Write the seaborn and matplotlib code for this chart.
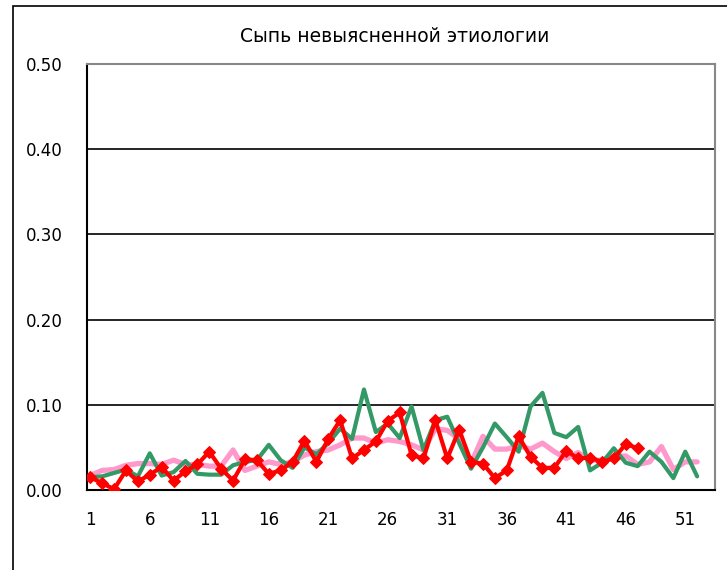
import numpy as np
import pandas as pd
import matplotlib
matplotlib.use('Agg')
import matplotlib.pyplot as plt
import seaborn as sns
from matplotlib.patches import Rectangle

# weekly incidence, three seasons
weeks = list(range(1, 53))
pink_vals = [0.017, 0.023, 0.024, 0.029, 0.031, 0.031, 0.030, 0.035, 0.030, 0.030,
             0.028, 0.028, 0.047, 0.023, 0.028, 0.033, 0.030, 0.033, 0.041, 0.045,
             0.047, 0.053, 0.061, 0.061, 0.055, 0.059, 0.057, 0.053, 0.047, 0.072,
             0.070, 0.060, 0.031, 0.063, 0.048, 0.048, 0.052, 0.048, 0.055, 0.045,
             0.037, 0.044, 0.035, 0.035, 0.039, 0.040, 0.030, 0.033, 0.051, 0.024,
             0.033, 0.033]
green_vals = [0.015, 0.016, 0.020, 0.024, 0.016, 0.043, 0.017, 0.021, 0.034, 0.019,
              0.018, 0.018, 0.029, 0.033, 0.035, 0.053, 0.035, 0.026, 0.050, 0.042,
              0.055, 0.072, 0.060, 0.118, 0.068, 0.078, 0.061, 0.098, 0.047, 0.082,
              0.086, 0.055, 0.025, 0.050, 0.078, 0.062, 0.045, 0.098, 0.114, 0.067,
              0.062, 0.074, 0.023, 0.032, 0.049, 0.032, 0.028, 0.045, 0.033, 0.014,
              0.045, 0.016]
red_vals = [0.015, 0.008, 0.001, 0.023, 0.010, 0.018, 0.027, 0.011, 0.022, 0.030,
            0.045, 0.025, 0.011, 0.036, 0.035, 0.019, 0.023, 0.033, 0.058, 0.033,
            0.060, 0.082, 0.037, 0.047, 0.057, 0.081, 0.091, 0.041, 0.037, 0.082,
            0.037, 0.071, 0.033, 0.031, 0.014, 0.023, 0.063, 0.039, 0.026, 0.026,
            0.046, 0.037, 0.038, 0.033, 0.037, 0.054, 0.049]
y_ticks = [0.0, 0.1, 0.2, 0.3, 0.4, 0.5]
x_labels = list(range(1, 52, 5))
title = 'Сыпь невыясненной этиологии'

sns.set_style('white')
plt.rcParams['font.family'] = ['DejaVu Sans']
plt.rcParams['text.color'] = 'black'
plt.rcParams['xtick.color'] = 'black'
plt.rcParams['ytick.color'] = 'black'
plt.rcParams['xtick.labelcolor'] = 'black'
plt.rcParams['ytick.labelcolor'] = 'black'

fig = plt.figure(figsize=(7.27, 5.70), dpi=100)
ax = fig.add_axes([86.7 / 727, 1 - 490 / 570, (715 - 86.7) / 727, (490 - 64) / 570])

# outer chart frame
fig.patches.append(Rectangle((13 / 727, -0.05), 1.1, 1 - 6 / 570 + 0.05,
                             transform=fig.transFigure, fill=False,
                             edgecolor='black', linewidth=1.2, zorder=0))

for yv in y_ticks[1:-1]:
    ax.axhline(yv, color='black', linewidth=1.2, zorder=1)

sns.lineplot(x=weeks, y=pink_vals, ax=ax, color='#FF99CC', linewidth=3.8, zorder=2)
sns.lineplot(x=weeks, y=green_vals, ax=ax, color='#339966', linewidth=3.0, zorder=3)
sns.lineplot(x=weeks[:len(red_vals)], y=red_vals, ax=ax, color='#FF0000', linewidth=3.0,
             marker='D', markersize=6, markeredgecolor='#FF0000', zorder=4)

ax.set_xlim(0.7, 53.5)
ax.set_ylim(0, 0.5)
ax.set_yticks(y_ticks)
ax.set_yticklabels([f'{v:.2f}' for v in y_ticks], fontsize=12)
ax.set_xticks(x_labels)
ax.set_xticklabels([str(v) for v in x_labels], fontsize=12)
ax.set_xticks([v - 0.5 for v in range(6, 52, 5)], minor=True)
ax.tick_params(axis='y', length=0, pad=17)
ax.tick_params(axis='x', which='major', length=0, pad=15)
ax.tick_params(axis='x', which='minor', direction='in', length=5, width=1.2, color='black')

for side in ['left', 'bottom']:
    ax.spines[side].set_color('black')
    ax.spines[side].set_linewidth(1.5)
for side in ['top', 'right']:
    ax.spines[side].set_color('#888888')
    ax.spines[side].set_linewidth(1.5)

fig.text(395 / 727, 1 - 37 / 570, title, ha='center', va='center', fontsize=13.5,
         color='black')

fig.savefig('out.png', dpi=100)
